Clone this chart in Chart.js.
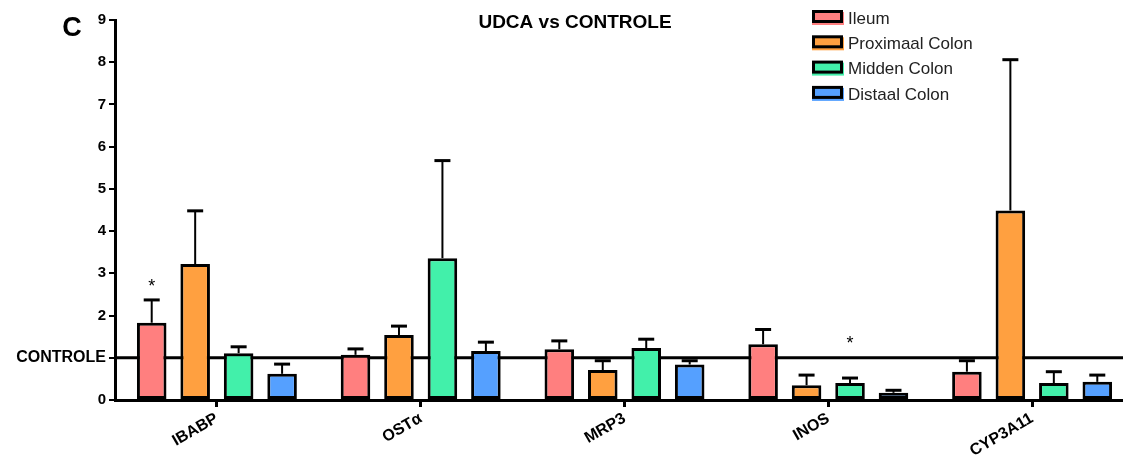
<!DOCTYPE html>
<html>
<head>
<meta charset="utf-8">
<script src="https://cdn.jsdelivr.net/npm/chart.js@4"></script>
<style>
  html, body { margin: 0; padding: 0; background: #fff; overflow: hidden; }
  #wrap { width: 1140px; height: 459px; }
</style>
</head>
<body>
<div id="wrap"><canvas id="chart" width="1140" height="459"></canvas></div>
<script>
// UDCA vs CONTROLE - relative expression per gut segment

const genes = ['IBABP', 'OSTα', 'MRP3', 'INOS', 'CYP3A11'];
const segments = ['Ileum', 'Proximaal Colon', 'Midden Colon', 'Distaal Colon'];
const segmentColors = ['#FF7F7F', '#FFA040', '#42F0AA', '#55A0FF'];

const ileum    = [1.83, 1.07, 1.20, 1.32, 0.67];
const proximal = [3.22, 1.54, 0.71, 0.35, 4.49];
const midden   = [1.11, 3.36, 1.23, 0.40, 0.40];
const distaal  = [0.62, 1.16, 0.84, 0.17, 0.43];

// upper end of the error bar (mean + SEM)
const ileumErr    = [2.37, 1.21, 1.40, 1.67, 0.93];
const proximalErr = [4.48, 1.75, 0.93, 0.59, 8.06];
const middenErr   = [1.26, 5.67, 1.44, 0.52, 0.67];
const distaalErr  = [0.85, 1.37, 0.93, 0.23, 0.59];

const yTicks = [0, 1, 2, 3, 4, 5, 6, 7, 8, 9];
const controlLevel = 1;

// significance marks: gene index, segment index, level of the star
const starGene = [0, 3];
const starSegment = [0, 2];
const starLevel = [2.77, 1.42];

const seriesValues = [ileum, proximal, midden, distaal];
const seriesErrors = [ileumErr, proximalErr, middenErr, distaalErr];

const FONT = 'Arial, "Liberation Sans", Helvetica, sans-serif';

const decorPlugin = {
  id: 'decor',
  beforeDatasetsDraw(chart) {
    const { ctx, chartArea, scales } = chart;
    const y = scales.y.getPixelForValue(controlLevel);
    ctx.save();
    ctx.strokeStyle = '#000';
    ctx.lineWidth = 3;
    ctx.beginPath();
    ctx.moveTo(chartArea.left, y);
    ctx.lineTo(chartArea.right, y);
    ctx.stroke();
    ctx.restore();
  },
  afterDatasetsDraw(chart) {
    const { ctx, scales } = chart;
    ctx.save();
    ctx.strokeStyle = '#000';
    chart.data.datasets.forEach((ds, di) => {
      const meta = chart.getDatasetMeta(di);
      meta.data.forEach((bar, i) => {
        const top = scales.y.getPixelForValue(ds.data[i]);
        const end = scales.y.getPixelForValue(seriesErrors[di][i]);
        ctx.lineWidth = 2;
        ctx.beginPath();
        ctx.moveTo(bar.x, top);
        ctx.lineTo(bar.x, end);
        ctx.stroke();
        ctx.lineWidth = 3;
        ctx.beginPath();
        ctx.moveTo(bar.x - 8, end);
        ctx.lineTo(bar.x + 8, end);
        ctx.stroke();
      });
    });

    ctx.fillStyle = '#000';
    ctx.font = '18px ' + FONT;
    ctx.textAlign = 'center';
    ctx.textBaseline = 'middle';
    starGene.forEach((g, k) => {
      const bar = chart.getDatasetMeta(starSegment[k]).data[g];
      ctx.fillText('*', bar.x, scales.y.getPixelForValue(starLevel[k]) + 4);
    });
    ctx.restore();
  },
  afterDraw(chart) {
    const { ctx } = chart;
    ctx.save();
    ctx.fillStyle = '#000';
    ctx.textBaseline = 'middle';
    ctx.textAlign = 'center';
    ctx.font = 'bold 19px ' + FONT;
    ctx.fillText('UDCA vs CONTROLE', 575, 23);
    ctx.font = 'bold 27px ' + FONT;
    ctx.fillText('C', 72, 29);

    // legend
    ctx.textAlign = 'left';
    ctx.font = '17px ' + FONT;
    segments.forEach((name, i) => {
      const y = 18 + i * 25.3;
      ctx.fillStyle = segmentColors[i];
      ctx.fillRect(812, y - 6, 32, 13);
      ctx.strokeStyle = '#000';
      ctx.lineWidth = 3;
      ctx.strokeRect(813.5, y - 6.5, 28, 10);
      ctx.fillStyle = '#222';
      ctx.fillText(name, 848, y + 1);
    });
    ctx.restore();
  }
};

new Chart(document.getElementById('chart'), {
  type: 'bar',
  data: {
    labels: genes,
    datasets: segments.map((name, i) => ({
      label: name,
      data: seriesValues[i],
      backgroundColor: segmentColors[i],
      borderColor: '#000',
      borderWidth: 3,
      borderSkipped: false,
      barPercentage: 0.68,
      categoryPercentage: 0.853
    }))
  },
  options: {
    responsive: false,
    animation: false,
    layout: { padding: { top: 20, right: 6, left: 0, bottom: 0 } },
    plugins: {
      legend: { display: false },
      title: { display: false },
      tooltip: { enabled: false }
    },
    scales: {
      x: {
        afterFit(scale) { scale.height = 59; },
        border: { display: true, color: '#000', width: 3 },
        grid: { display: true, drawOnChartArea: false, offset: false, tickLength: 7, color: '#000', lineWidth: 3 },
        ticks: {
          color: '#000',
          minRotation: 30,
          maxRotation: 30,
          padding: 2,
          font: { family: FONT, size: 16, weight: 'bold' }
        }
      },
      y: {
        min: 0,
        max: 9,
        afterFit(scale) { scale.width = 115; },
        afterBuildTicks(scale) { scale.ticks = yTicks.map(v => ({ value: v })); },
        border: { display: true, color: '#000', width: 3 },
        grid: { display: true, drawOnChartArea: false, tickLength: 6, color: '#000', lineWidth: 2 },
        ticks: {
          color: '#000',
          padding: 3,
          callback: v => (v === controlLevel ? 'CONTROLE' : v),
          font: ctx => ({
            family: FONT,
            weight: 'bold',
            size: ctx.tick && ctx.tick.value === controlLevel ? 16 : 15
          })
        }
      }
    }
  },
  plugins: [decorPlugin]
});
</script>
</body>
</html>
